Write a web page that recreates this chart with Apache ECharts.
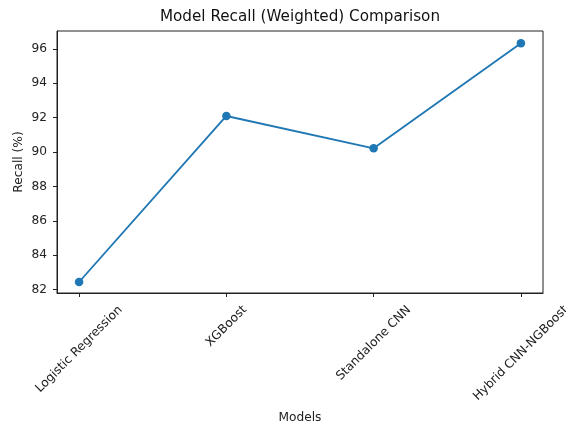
<!DOCTYPE html>
<html>
<head>
<meta charset="utf-8">
<script src="https://cdn.jsdelivr.net/npm/echarts@6/dist/echarts.min.js"></script>
<style>
  html, body { margin: 0; padding: 0; background: #fff; }
  #main { width: 566px; height: 427px; }
</style>
</head>
<body>
<div id="main"></div>
<script>
const models = ['Logistic Regression', 'XGBoost', 'Standalone CNN', 'Hybrid CNN-NGBoost'];
const recall = [82.45, 92.1, 90.22, 96.33];
const yTicks = [82, 84, 86, 88, 90, 92, 94, 96];

const FONT = 'DejaVu Sans';
const labelSize = 12.2;

// measure label widths so the rotated labels can be centred under their ticks
const ctx = document.createElement('canvas').getContext('2d');
ctx.font = labelSize + 'px "' + FONT + '"';
const lineH = 14;

const positions = models.map((m, i) => i);

// one x axis per label (same scale) so each label can get its own offset
const xAxes = models.map((name, i) => {
  const w = ctx.measureText(name).width;
  const p = 0.5 * (w + lineH);
  return {
    type: 'value',
    gridIndex: 0,
    position: 'bottom',
    offset: 0,
    min: -0.15,
    max: 3.15,
    splitLine: { show: false },
    axisLine: { show: i === 0, onZero: false, lineStyle: { color: '#222', width: 1 } },
    axisTick: {
      show: i === 0,
      customValues: positions,
      length: 4,
      lineStyle: { color: '#222', width: 1 }
    },
    axisLabel: {
      customValues: [i],
      formatter: () => name,
      rotate: 45,
      align: 'center',
      verticalAlign: 'top',
      lineHeight: p,
      padding: [0, p, 0, 0],
      margin: 10,
      fontFamily: FONT,
      fontSize: labelSize,
      color: '#222'
    },
    name: i === 0 ? 'Models' : '',
    nameLocation: 'middle',
    nameGap: 119,
    nameMoveOverlap: false,
    nameTextStyle: { fontFamily: FONT, fontSize: labelSize, color: '#222' }
  };
});

const chart = echarts.init(document.getElementById('main'));
chart.setOption({
  animation: false,
  backgroundColor: '#fff',
  title: {
    text: 'Model Recall (Weighted) Comparison',
    left: 295,
    top: 5,
    textAlign: 'center',
    textStyle: { fontFamily: FONT, fontSize: 15.2, fontWeight: 'normal', color: '#111' }
  },
  grid: {
    left: 57, right: 23, top: 31, bottom: 134,
    outerBoundsMode: 'none',
    containLabel: false,
    show: true, borderColor: '#222', borderWidth: 1, backgroundColor: 'transparent'
  },
  xAxis: xAxes,
  yAxis: {
    type: 'value',
    min: 81.81,
    max: 97.04,
    splitLine: { show: false },
    axisLine: { show: true, onZero: false, lineStyle: { color: '#222', width: 1 } },
    axisTick: { show: true, customValues: yTicks, length: 4, lineStyle: { color: '#222', width: 1 } },
    axisLabel: {
      customValues: yTicks,
      margin: 10,
      fontFamily: FONT,
      fontSize: labelSize,
      color: '#222'
    },
    name: 'Recall (%)',
    nameLocation: 'middle',
    nameGap: 32,
    nameMoveOverlap: false,
    nameTextStyle: { fontFamily: FONT, fontSize: labelSize, color: '#222' }
  },
  series: [{
    type: 'line',
    xAxisIndex: 0,
    data: recall.map((v, i) => [positions[i], v]),
    symbol: 'circle',
    symbolSize: 8.5,
    lineStyle: { color: '#1f77b4', width: 1.85 },
    itemStyle: { color: '#1f77b4' }
  }]
});
</script>
</body>
</html>
